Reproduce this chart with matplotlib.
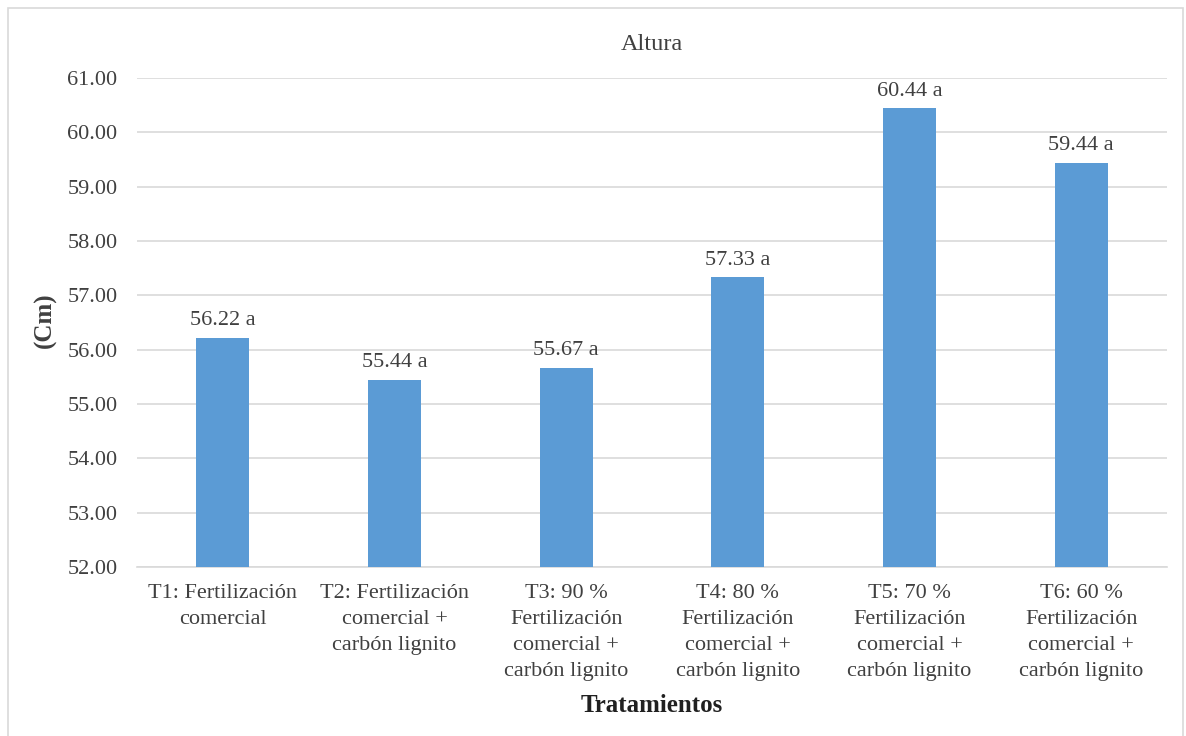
import matplotlib.pyplot as plt
from matplotlib.patches import Rectangle

categories = [
    "T1: Fertilización\ncomercial",
    "T2: Fertilización\ncomercial +\ncarbón lignito",
    "T3: 90 %\nFertilización\ncomercial +\ncarbón lignito",
    "T4: 80 %\nFertilización\ncomercial +\ncarbón lignito",
    "T5: 70 %\nFertilización\ncomercial +\ncarbón lignito",
    "T6: 60 %\nFertilización\ncomercial +\ncarbón lignito",
]
heights = [56.22, 55.44, 55.67, 57.33, 60.44, 59.44]
letters = ["a", "a", "a", "a", "a", "a"]
yticks = [52, 53, 54, 55, 56, 57, 58, 59, 60, 61]

plt.rcParams['font.family'] = ['Liberation Serif', 'DejaVu Serif']
text_color = '#404040'

fig = plt.figure(figsize=(11.86, 7.36), dpi=100)
# outer chart border
fig.patches.append(Rectangle((8 / 1186, -0.01), 1175 / 1186, 1 - 8 / 736 + 0.01,
                             transform=fig.transFigure, fill=False,
                             edgecolor='#d9d9d9', linewidth=1.2))

ax = fig.add_axes([137 / 1186, (736 - 567) / 736, 1030 / 1186, 489 / 736])
x = range(len(categories))
bars = ax.bar(x, heights, width=0.31, color='#5b9bd5', zorder=3)

for xi, h, l in zip(x, heights, letters):
    ax.text(xi, h + 0.14, f"{h:.2f} {l}", ha='center', va='bottom',
            fontsize=16, color=text_color)

ax.set_ylim(52, 61)
ax.set_xlim(-0.5, len(categories) - 0.5)
ax.set_yticks(yticks)
ax.set_yticklabels([f"{v:.2f}" for v in yticks], fontsize=16, color=text_color)
ax.set_xticks(list(x))
ax.set_xticklabels(categories, fontsize=16, color=text_color, linespacing=1.5)
ax.tick_params(axis='y', length=0, pad=14)
ax.tick_params(axis='x', length=0, pad=12)
ax.grid(axis='y', color='#d9d9d9', linewidth=1.2, zorder=0)
for side in ['top', 'right', 'left']:
    ax.spines[side].set_visible(False)
ax.spines['bottom'].set_color('#d9d9d9')
ax.spines['bottom'].set_linewidth(1.2)

ax.set_title("Altura", fontsize=17.5, color=text_color, pad=20)
fig.text(45 / 1186, 1 - 320 / 736, "(Cm)", rotation=90, ha='center', va='center',
         fontsize=18, fontweight='bold', color=text_color)
fig.text((137 + 1167) / 2 / 1186, 1 - 705 / 736, "Tratamientos", ha='center',
         va='center', fontsize=18, fontweight='bold', color='#202020')

fig.savefig("out.png", dpi=100)
